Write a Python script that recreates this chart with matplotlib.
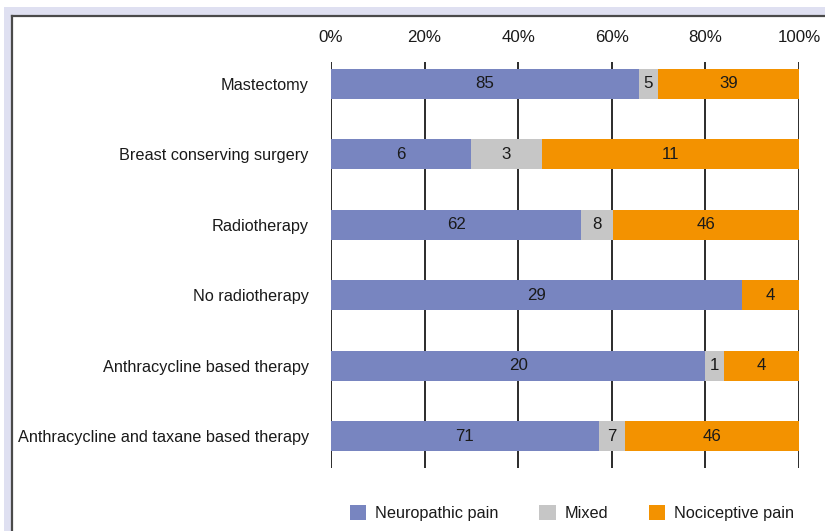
import numpy as np
import matplotlib.pyplot as plt
from matplotlib.patches import Rectangle

plt.rcParams['font.family'] = ['Liberation Sans', 'DejaVu Sans']
FS = 11.7

# 数据
categories = ["Mastectomy", "Breast conserving surgery", "Radiotherapy",
              "No radiotherapy", "Anthracycline based therapy",
              "Anthracycline and taxane based therapy"]
neuropathic = [85, 6, 62, 29, 20, 71]
mixed = [5, 3, 8, 0, 1, 7]
nociceptive = [39, 11, 46, 4, 4, 46]
series_names = ["Neuropathic pain", "Mixed", "Nociceptive pain"]
colors = ['#7885c0', '#c6c6c6', '#f39200']
xticks = [0, 20, 40, 60, 80, 100]

W, H = 825, 531
fig = plt.figure(figsize=(W / 100, H / 100), dpi=100)

# 外框 (淡紫色边 + 深灰线)
lav = '#dfe0f1'
fig.patches.append(Rectangle((4 / W, 0), (W - 4) / W, (H - 7) / H, transform=fig.transFigure,
                             facecolor=lav, edgecolor='none', zorder=-2))
fig.patches.append(Rectangle((11 / W, 0), (W - 11) / W, (H - 15) / H, transform=fig.transFigure,
                             facecolor='white', edgecolor='none', zorder=-1))
fig.add_artist(plt.Line2D([11.5 / W, 11.5 / W], [0, (H - 15.5) / H], transform=fig.transFigure,
                          color='#4a4a4a', lw=1.6))
fig.add_artist(plt.Line2D([11.5 / W, 1], [(H - 15.5) / H, (H - 15.5) / H], transform=fig.transFigure,
                          color='#4a4a4a', lw=1.6))

ax = fig.add_axes([331 / W, (H - 468) / H, (799 - 331) / W, (468 - 62) / H])
ax.patch.set_alpha(0)

data = np.array([neuropathic, mixed, nociceptive], dtype=float)
totals = data.sum(axis=0)
pct = data / totals * 100
y = np.arange(len(categories))
left = np.zeros(len(categories))
for i in range(3):
    ax.barh(y, pct[i], 0.43, left=left, color=colors[i], label=series_names[i], zorder=2)
    for j in range(len(categories)):
        if data[i, j] > 0:
            ax.text(left[j] + pct[i, j] / 2, y[j], "%d" % data[i, j], ha='center', va='center',
                    fontsize=FS + 0.5, color='#1a1a1a', zorder=3)
    left += pct[i]

ax.set_xlim(0, 100)
ax.set_ylim(5.45, -0.31)
ax.set_xticks(xticks)
ax.set_xticklabels(["%d%%" % t for t in xticks], fontsize=FS + 0.5, color='#1a1a1a')
ax.xaxis.tick_top()
ax.tick_params(axis='x', length=0, pad=12)
ax.set_yticks(y)
ax.set_yticklabels(categories, fontsize=FS, color='#1a1a1a')
ax.tick_params(axis='y', length=0, pad=16)
ax.grid(axis='x', color='#1a1a1a', lw=1.3, zorder=1)
ax.set_axisbelow(True)
for s in ax.spines.values():
    s.set_visible(False)

leg = fig.legend(loc='center', bbox_to_anchor=(572 / W, (H - 513) / H), ncol=3, frameon=False,
                 fontsize=FS, handlelength=1.0, handleheight=1.0, columnspacing=2.5,
                 handletextpad=0.55)
for t in leg.get_texts():
    t.set_color('#1a1a1a')

fig.savefig("out.png", dpi=100)
